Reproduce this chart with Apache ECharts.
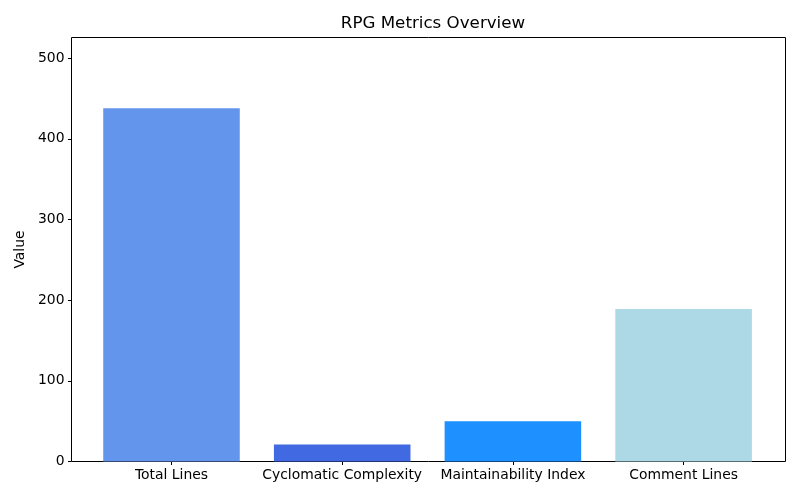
<!DOCTYPE html>
<html>
<head>
<meta charset="utf-8">
<script src="https://cdn.jsdelivr.net/npm/echarts@6/dist/echarts.min.js"></script>
<style>html,body{margin:0;padding:0;background:#fff}#c{width:800px;height:500px}</style>
</head>
<body>
<div id="c"></div>
<script>
const categories = ['Total Lines', 'Cyclomatic Complexity', 'Maintainability Index', 'Comment Lines'];
const values = [438, 21, 50, 189];
const colors = ['#6495ED', '#4169E1', '#1E90FF', '#ADD8E6'];
const yTicks = [0, 100, 200, 300, 400, 500];
const yMax = 438 * 1.2;

const font = 'DejaVu Sans';
const chart = echarts.init(document.getElementById('c'), null, {renderer: 'canvas'});
chart.setOption({
  animation: false,
  backgroundColor: '#fff',
  title: {
    text: 'RPG Metrics Overview',
    left: 428, top: 10, textAlign: 'center',
    textStyle: {fontFamily: font, fontSize: 16.7, fontWeight: 'normal', color: '#000'}
  },
  grid: [
    {left: 71.5, right: 14.5, top: 37.5, bottom: 38.5, show: true, borderColor: '#000', borderWidth: 1, backgroundColor: 'transparent'},
    {left: 86.15, right: 31.05, top: 37.5, bottom: 38.5}
  ],
  xAxis: [
    {gridIndex: 0, type: 'value', min: 0, max: 1, show: false},
    {gridIndex: 1, type: 'category', data: categories, boundaryGap: true,
     axisLine: {show: false},
     axisTick: {show: true, alignWithLabel: true, length: 3.5, lineStyle: {color: '#000'}},
     axisLabel: {color: '#000', fontFamily: font, fontSize: 13.9, margin: 7, interval: 0}}
  ],
  yAxis: [
    {gridIndex: 0, type: 'value', min: 0, max: yMax, interval: 100,
     name: 'Value', nameLocation: 'middle', nameGap: 44,
     nameTextStyle: {color: '#000', fontFamily: font, fontSize: 13.9},
     axisLine: {show: false},
     splitLine: {show: false},
     axisTick: {show: true, length: 3.5, lineStyle: {color: '#000'}, customValues: yTicks},
     axisLabel: {color: '#000', fontFamily: font, fontSize: 13.9, margin: 7, customValues: yTicks}},
    {gridIndex: 1, type: 'value', min: 0, max: yMax, show: false}
  ],
  series: [{
    type: 'bar', xAxisIndex: 1, yAxisIndex: 1,
    barWidth: '80%',
    data: values.map((v, i) => ({value: v, itemStyle: {color: colors[i]}}))
  }]
});
</script>
</body>
</html>
